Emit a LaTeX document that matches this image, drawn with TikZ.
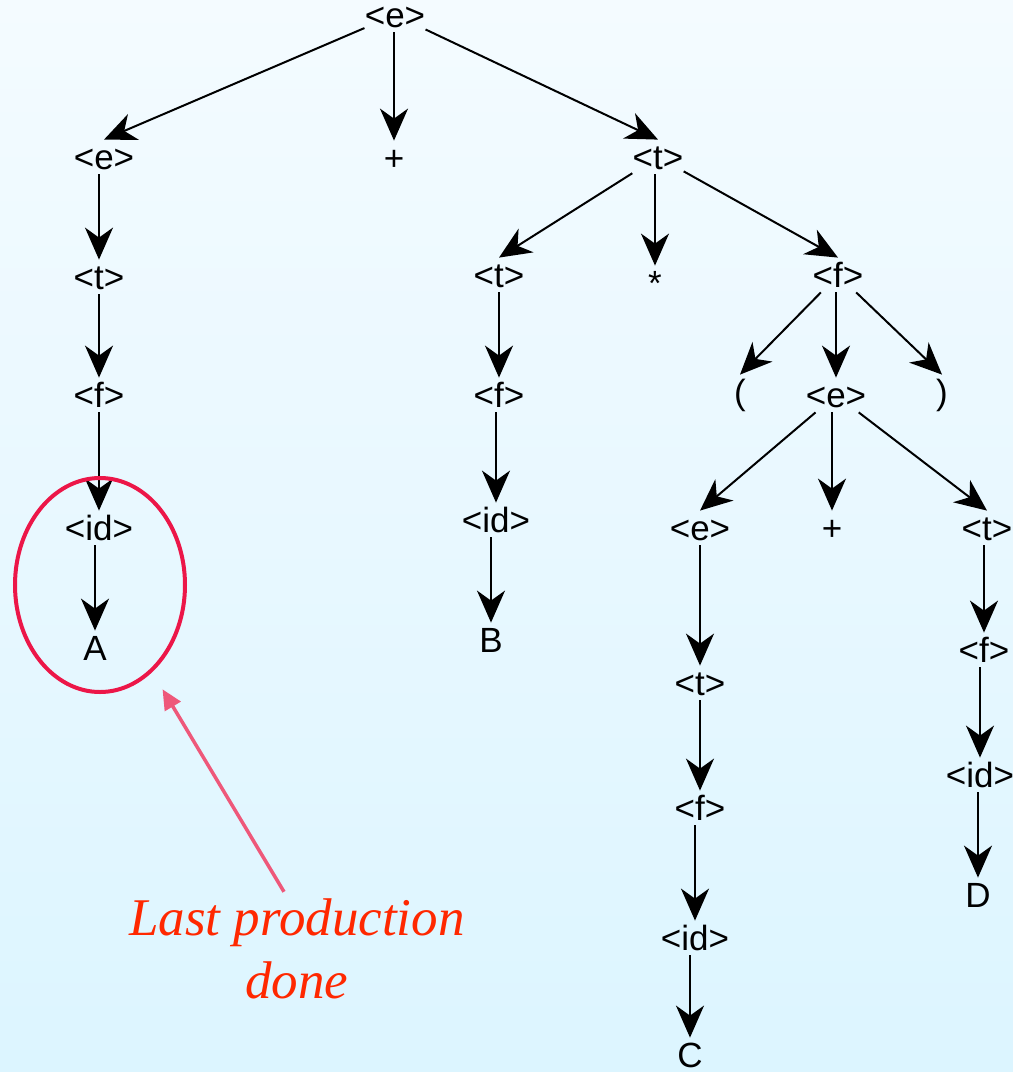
\documentclass[tikz,border=0pt]{standalone}
\usepackage{fontspec}
\setmainfont{Liberation Sans}
\newfontfamily\notefont{Liberation Serif}
\usetikzlibrary{arrows.meta,shapes.geometric}
\definecolor{bgtop}{RGB}{244,251,255}
\definecolor{bgbot}{RGB}{220,245,255}
\definecolor{ringred}{RGB}{236,22,72}
\definecolor{notepink}{RGB}{238,88,122}
\definecolor{notered}{RGB}{255,40,0}
\tikzset{
  sym/.style={font=\fontsize{17.5pt}{20pt}\selectfont, inner sep=0pt, text height=14.5pt, text depth=2.5pt},
  edge/.style={-{Stealth[length=16pt,width=14pt,inset=5pt]}, line width=1pt},
}

\begin{document}
\begin{tikzpicture}[x=0.5pt,y=-0.5pt]
\shade[top color=bgtop, bottom color=bgbot] (0,0) rectangle (1013,1072);
\useasboundingbox (0,0) rectangle (1013,1072);
% top of the tree
\node[sym] (e0) at (395,15) {<e>};
\node[sym] (eL) at (104,157) {<e>};
\node[sym] (plusA) at (394,158) {+};
\node[sym] (tR) at (658,157) {<t>};
% left branch
\node[sym] (tL) at (99,277) {<t>};
\node[sym] (fL) at (99,395) {<f>};
\node[sym] (idL) at (99,528) {<id>};
\node[sym] (nA) at (95,648) {A};
% middle branch
\node[sym] (tM) at (499,275) {<t>};
\node[sym] (star) at (655,283) {*};
\node[sym] (fR) at (838,275) {<f>};
\node[sym] (fM) at (499,395) {<f>};
\node[sym] (idM) at (496,520) {<id>};
\node[sym] (nB) at (491,640) {B};
% parenthesised part
\node[sym] (lpar) at (740,392) {(};
\node[sym] (eP) at (836,395) {<e>};
\node[sym] (rpar) at (942,392) {)};
\node[sym] (eC) at (700,528) {<e>};
\node[sym] (plusB) at (832,528) {+};
\node[sym] (tD) at (987,528) {<t>};
\node[sym] (tC) at (700,683) {<t>};
\node[sym] (fC) at (700,808) {<f>};
\node[sym] (idC) at (695,938) {<id>};
\node[sym] (nC) at (690,1055) {C};
\node[sym] (fD) at (984,650) {<f>};
\node[sym] (idD) at (980,775) {<id>};
\node[sym] (nD) at (978,895) {D};
% branching edges
\foreach \p/\c in {e0/eL, e0/tR, tR/tM, tR/fR,
  fR/lpar, fR/rpar, eP/eC, eP/tD}
  \draw[edge] (\p) -- (\c.north);
% straight edges
\foreach \p/\c in {e0/plusA, tR/star, fR/eP, eP/plusB,
  eL/tL, tL/fL, fL/idL, idL/nA, tM/fM, fM/idM, idM/nB,
  eC/tC, tC/fC, fC/idC, idC/nC, tD/fD, fD/idD, idD/nD}
  \draw[edge] (\c.north |- \p.south) -- (\c.north);
% remark
\node[draw=ringred, line width=2pt, ellipse, minimum width=85pt, minimum height=107pt, inner sep=0pt] (ring) at (100,585) {};
\node[font=\notefont\itshape\fontsize{26.5pt}{31.5pt}\selectfont, text=notered, align=center] (note) at (297,949) {Last production\\done};
\draw[notepink, line width=1.75pt, -{Triangle[length=10pt,width=9pt]}, shorten >=10pt] ([xshift=-6.5pt]note.north) -- (ring);
\end{tikzpicture}
\end{document}
